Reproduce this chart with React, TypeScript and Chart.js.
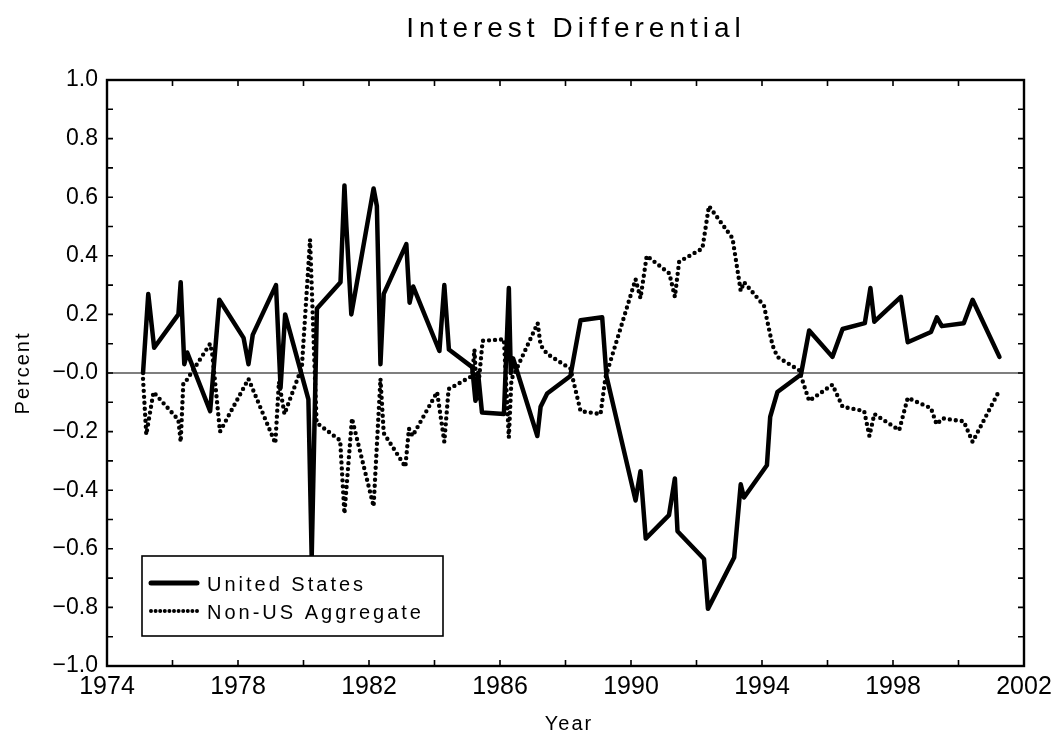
import React, { useEffect, useRef } from "react";
import { Chart, registerables } from "chart.js";

Chart.register(...registerables);

const chartTitle = "Interest Differential";
const xAxisTitle = "Year";
const yAxisTitle = "Percent";
const seriesNames = ["United States", "Non-US Aggregate"];

const xTickValues = [1974, 1978, 1982, 1986, 1990, 1994, 1998, 2002];
const xTickLabels = ["1974", "1978", "1982", "1986", "1990", "1994", "1998", "2002"];
const yTickValues = [-1, -0.8, -0.6, -0.4, -0.2, 0, 0.2, 0.4, 0.6, 0.8, 1];
const yTickLabels = ["\u22121.0", "\u22120.8", "\u22120.6", "\u22120.4", "\u22120.2", "\u22120.0", "0.2", "0.4", "0.6", "0.8", "1.0"];

const usDates = [
  1975.10, 1975.26, 1975.44, 1976.18, 1976.25, 1976.36, 1976.45, 1977.15, 1977.43,
  1978.17, 1978.32, 1978.45, 1979.16, 1979.30, 1979.44, 1980.15, 1980.25, 1980.41,
  1981.13, 1981.25, 1981.31, 1981.46, 1982.14, 1982.24, 1982.35, 1982.45, 1983.14,
  1983.24, 1983.35, 1984.15, 1984.30, 1984.44, 1985.15, 1985.25, 1985.33, 1985.45,
  1986.12, 1986.27, 1986.33, 1986.40, 1987.14, 1987.24, 1987.44, 1988.15, 1988.46,
  1989.12, 1989.25, 1990.14, 1990.29, 1990.45, 1991.16, 1991.34, 1991.42, 1992.23,
  1992.35, 1993.15, 1993.35, 1993.45, 1994.15, 1994.25, 1994.47, 1995.19, 1995.44,
  1996.15, 1996.46, 1997.14, 1997.31, 1997.43, 1998.24, 1998.45, 1999.16, 1999.34,
  1999.49, 2000.16, 2000.43, 2001.25,
];
const usValues = [
  0.0, 0.27, 0.086, 0.2, 0.31, 0.03, 0.07, -0.13, 0.25,
  0.12, 0.03, 0.13, 0.3, -0.05, 0.2, -0.09, -0.63, 0.22,
  0.31, 0.64, 0.5, 0.2, 0.63, 0.57, 0.03, 0.27, 0.44,
  0.24, 0.295, 0.075, 0.3, 0.08, 0.02, -0.095, 0.0, -0.135,
  -0.14, 0.29, 0.0, 0.05, -0.215, -0.115, -0.07, -0.01, 0.18,
  0.19, -0.01, -0.435, -0.335, -0.565, -0.485, -0.36, -0.54, -0.635,
  -0.805, -0.63, -0.38, -0.425, -0.315, -0.15, -0.065, -0.005, 0.145,
  0.055, 0.15, 0.17, 0.29, 0.175, 0.26, 0.105, 0.14, 0.19,
  0.16, 0.17, 0.25, 0.055,
];

const nonUsDates = [
  1975.10, 1975.20, 1975.42, 1976.18, 1976.25, 1976.33, 1976.40, 1977.15, 1977.22,
  1977.45, 1978.32, 1979.14, 1979.25, 1979.42, 1979.95, 1980.20, 1980.40, 1981.12,
  1981.25, 1981.48, 1982.14, 1982.35, 1982.45, 1983.11, 1983.22, 1983.33, 1984.08,
  1984.30, 1984.43, 1985.15, 1985.22, 1985.30, 1985.47, 1986.12, 1986.27, 1986.35,
  1986.45, 1987.15, 1987.24, 1987.44, 1988.15, 1988.46, 1989.07, 1989.22, 1990.14,
  1990.29, 1990.48, 1991.17, 1991.34, 1991.47, 1992.18, 1992.38, 1993.10, 1993.35,
  1993.45, 1994.06, 1994.32, 1994.47, 1995.13, 1995.44, 1996.15, 1996.46, 1997.12,
  1997.28, 1997.43, 1998.19, 1998.45, 1999.16, 1999.33, 1999.52, 2000.16, 2000.43,
  2001.20,
];
const nonUsValues = [
  -0.02, -0.21, -0.065, -0.16, -0.235, -0.035, -0.03, 0.1, 0.06,
  -0.2, -0.02, -0.24, -0.03, -0.14, 0.02, 0.455, -0.17, -0.23,
  -0.48, -0.155, -0.455, -0.02, -0.205, -0.32, -0.19, -0.215, -0.065,
  -0.235, -0.055, -0.01, 0.08, -0.09, 0.11, 0.115, -0.22, -0.02,
  0.0, 0.17, 0.095, 0.065, 0.015, -0.13, -0.14, -0.015, 0.32,
  0.255, 0.4, 0.34, 0.26, 0.38, 0.425, 0.57, 0.46, 0.28,
  0.31, 0.23, 0.095, 0.055, 0.01, -0.095, -0.04, -0.115, -0.13,
  -0.215, -0.14, -0.195, -0.085, -0.12, -0.175, -0.155, -0.165, -0.235,
  -0.07,
];

const FONT = "'Liberation Sans', Arial, sans-serif";

const decorPlugin = {
  id: "decor",
  beforeDatasetsDraw(chart: any) {
    const { ctx, chartArea, scales } = chart;
    const y0 = scales.y.getPixelForValue(0);
    ctx.save();
    ctx.strokeStyle = "#000";
    ctx.lineWidth = 1.2;
    ctx.beginPath();
    ctx.moveTo(chartArea.left, y0);
    ctx.lineTo(chartArea.right, y0);
    ctx.stroke();
    ctx.restore();
  },
  afterDatasetsDraw(chart: any) {
    const { ctx, chartArea, scales } = chart;
    const { left, right, top, bottom } = chartArea;
    ctx.save();
    // frame
    ctx.strokeStyle = "#000";
    ctx.lineWidth = 2.4;
    ctx.strokeRect(left, top, right - left, bottom - top);
    // inward ticks
    ctx.lineWidth = 1.6;
    const tl = 6;
    for (let yr = 1974; yr <= 2002; yr += 2) {
      const px = scales.x.getPixelForValue(yr);
      ctx.beginPath();
      ctx.moveTo(px, bottom);
      ctx.lineTo(px, bottom - tl);
      ctx.moveTo(px, top);
      ctx.lineTo(px, top + tl);
      ctx.stroke();
    }
    for (let k = -10; k <= 10; k++) {
      const py = scales.y.getPixelForValue(k / 10);
      ctx.beginPath();
      ctx.moveTo(left, py);
      ctx.lineTo(left + tl, py);
      ctx.moveTo(right, py);
      ctx.lineTo(right - tl, py);
      ctx.stroke();
    }
    // legend
    const lx = 142, ly = 556, lw = 301, lh = 80;
    ctx.fillStyle = "#fff";
    ctx.fillRect(lx, ly, lw, lh);
    ctx.lineWidth = 1.6;
    ctx.strokeRect(lx, ly, lw, lh);
    ctx.lineCap = "round";
    ctx.lineWidth = 5;
    ctx.beginPath();
    ctx.moveTo(151, 583);
    ctx.lineTo(197, 583);
    ctx.stroke();
    ctx.lineWidth = 4;
    ctx.setLineDash([0, 4.6]);
    ctx.beginPath();
    ctx.moveTo(151, 611);
    ctx.lineTo(197, 611);
    ctx.stroke();
    ctx.setLineDash([]);
    ctx.fillStyle = "#000";
    ctx.textAlign = "left";
    ctx.textBaseline = "alphabetic";
    ctx.font = `20px ${FONT}`;
    (ctx as any).letterSpacing = "3px";
    ctx.fillText(seriesNames[0], 207, 591);
    ctx.fillText(seriesNames[1], 207, 619);
    // title
    ctx.font = `28px ${FONT}`;
    (ctx as any).letterSpacing = "5px";
    ctx.textAlign = "center";
    ctx.fillText(chartTitle, 576, 37);
    // x axis title
    ctx.font = `20px ${FONT}`;
    (ctx as any).letterSpacing = "2px";
    ctx.fillText(xAxisTitle, 569, 730);
    // y axis title
    ctx.translate(29, 373);
    ctx.rotate(-Math.PI / 2);
    ctx.fillText(yAxisTitle, 0, 0);
    (ctx as any).letterSpacing = "0px";
    ctx.restore();
  },
};

export default function App() {
  const canvasRef = useRef<HTMLCanvasElement | null>(null);

  useEffect(() => {
    document.body.style.margin = "0";
    document.body.style.overflow = "hidden";
    const canvas = canvasRef.current;
    if (!canvas) return;
    const chart = new Chart(canvas, {
      type: "line",
      data: {
        datasets: [
          {
            label: seriesNames[0],
            data: usDates.map((d, i) => ({ x: d, y: usValues[i] })),
            borderColor: "#000",
            borderWidth: 4.5,
            borderJoinStyle: "round",
            borderCapStyle: "round",
            pointRadius: 0,
            fill: false,
            tension: 0,
          },
          {
            label: seriesNames[1],
            data: nonUsDates.map((d, i) => ({ x: d, y: nonUsValues[i] })),
            borderColor: "#000",
            borderWidth: 4.4,
            borderDash: [0, 6],
            borderJoinStyle: "round",
            borderCapStyle: "round",
            pointRadius: 0,
            fill: false,
            tension: 0,
          },
        ],
      },
      options: {
        responsive: false,
        animation: false,
        events: [],
        layout: { padding: { top: 80, right: 37, left: 0, bottom: 0 } },
        plugins: {
          legend: { display: false },
          title: { display: false },
          tooltip: { enabled: false },
        },
        scales: {
          x: {
            type: "linear",
            min: 1974,
            max: 2002,
            afterFit: (s: any) => {
              s.height = 72;
            },
            afterBuildTicks: (s: any) => {
              s.ticks = xTickValues.map((v) => ({ value: v }));
            },
            grid: { display: false, drawTicks: false },
            border: { display: false },
            ticks: {
              autoSkip: false,
              maxRotation: 0,
              padding: 6,
              color: "#000",
              font: { family: FONT, size: 25 },
              callback: (v: any) => {
                const i = xTickValues.findIndex((t) => Math.abs(t - Number(v)) < 1e-6);
                return i >= 0 ? xTickLabels[i] : "";
              },
            },
          },
          y: {
            type: "linear",
            min: -1,
            max: 1,
            afterFit: (s: any) => {
              s.width = 107;
            },
            afterBuildTicks: (s: any) => {
              s.ticks = yTickValues.map((v) => ({ value: v }));
            },
            grid: { display: false, drawTicks: false },
            border: { display: false },
            ticks: {
              autoSkip: false,
              padding: 9,
              color: "#000",
              font: { family: FONT, size: 23 },
              callback: (v: any) => {
                const i = yTickValues.findIndex((t) => Math.abs(t - Number(v)) < 1e-6);
                return i >= 0 ? yTickLabels[i] : "";
              },
            },
          },
        },
      },
      plugins: [decorPlugin],
    } as any);
    return () => chart.destroy();
  }, []);

  return (
    <div style={{ width: 1061, height: 738, background: "#fff" }}>
      <canvas ref={canvasRef} width={1061} height={738} style={{ display: "block" }} />
    </div>
  );
}
